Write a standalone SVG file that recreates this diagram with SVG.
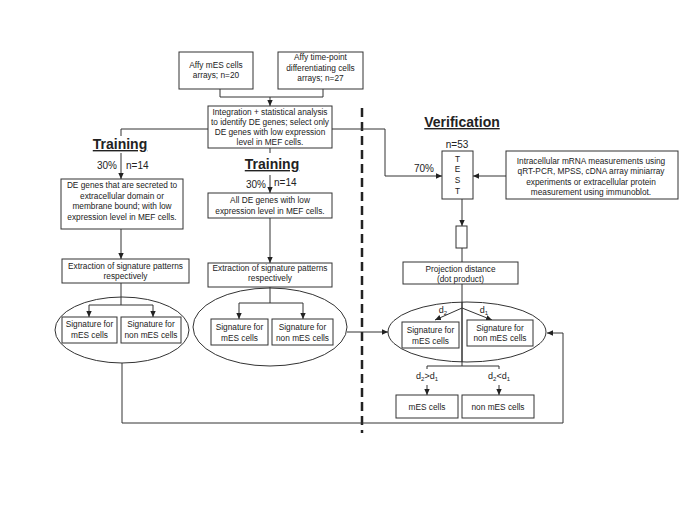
<svg xmlns="http://www.w3.org/2000/svg" width="685" height="513" viewBox="0 0 685 513">
<style>
text{font-family:"Liberation Sans",Arial,sans-serif;fill:#222}
.t{font-size:8.3px;text-anchor:middle}
.m{font-size:10px}
.h{font-size:14px;font-weight:bold;text-anchor:middle;text-decoration:underline}
.d{font-size:9px;text-anchor:middle}
.box{fill:#fff;stroke:#333;stroke-width:1}
.ell{fill:none;stroke:#333;stroke-width:1}
.c{fill:none;stroke:#333;stroke-width:1}
</style>
<defs>
<marker id="ah" viewBox="0 0 10 10" refX="10" refY="5" markerWidth="6" markerHeight="6" markerUnits="userSpaceOnUse" orient="auto"><path d="M0,0.5 L10,5 L0,9.5 z" fill="#222"/></marker>
</defs>
<rect width="685" height="513" fill="#fff"/>
<line x1="362" y1="108" x2="362" y2="433" stroke="#222" stroke-width="2.5" stroke-dasharray="9,5"/>
<g id="connectors">
<path class="c" d="M220,89 V97 H323 V89"/>
<path class="c" d="M270,97 V106" marker-end="url(#ah)"/>
<path class="c" d="M208,129 H121 V136"/>
<path class="c" d="M121,153 V179" marker-end="url(#ah)"/>
<path class="c" d="M270,148 V153"/>
<path class="c" d="M270,175 V193" marker-end="url(#ah)"/>
<path class="c" d="M121,229 V259" marker-end="url(#ah)"/>
<path class="c" d="M121,283 V305 M89,305 H153"/>
<path class="c" d="M89,305 V317" marker-end="url(#ah)"/>
<path class="c" d="M153,305 V317" marker-end="url(#ah)"/>
<path class="c" d="M122,363 V423 H563 V333 H547" marker-end="url(#ah)"/>
<path class="c" d="M270,218 V263" marker-end="url(#ah)"/>
<path class="c" d="M270,287 V303 M239,303 H303"/>
<path class="c" d="M239,303 V319" marker-end="url(#ah)"/>
<path class="c" d="M303,303 V319" marker-end="url(#ah)"/>
<path class="c" d="M347,332 H388" marker-end="url(#ah)"/>
<path class="c" d="M332,129 H385 V176 H442" marker-end="url(#ah)"/>
<path class="c" d="M506,176 H473" marker-end="url(#ah)"/>
<path class="c" d="M462,199 V226" marker-end="url(#ah)"/>
<path class="c" d="M462,248 V262"/>
<path class="c" d="M462,284 V366"/>
<path class="c" d="M462,308 L435,320" marker-end="url(#ah)"/>
<path class="c" d="M462,308 L492,320" marker-end="url(#ah)"/>
<path class="c" d="M427,369 V366 H499 V369"/>
<path class="c" d="M427,385 V395" marker-end="url(#ah)"/>
<path class="c" d="M499,385 V395" marker-end="url(#ah)"/>
</g>
<g id="affy-mes">
<rect class="box" x="179" y="52" width="74" height="37"/>
<text class="t" x="216" y="68">Affy mES cells</text>
<text class="t" x="216" y="78">arrays; n=20</text>
</g>
<g id="affy-timepoint">
<rect class="box" x="278" y="52" width="85" height="37"/>
<text class="t" x="320.5" y="60">Affy time-point</text>
<text class="t" x="320.5" y="70.5">differentiating cells</text>
<text class="t" x="320.5" y="81">arrays; n=27</text>
</g>
<g id="integration">
<rect class="box" x="208" y="106" width="124" height="42"/>
<text class="t" x="270" y="115">Integration + statistical analysis</text>
<text class="t" x="270" y="125">to identify DE genes; select only</text>
<text class="t" x="270" y="135">DE genes with low expression</text>
<text class="t" x="270" y="144.5">level in MEF cells.</text>
</g>
<g id="training-left-label">
<text class="h" x="120" y="149">Training</text>
<text class="m" x="117" y="169" text-anchor="end">30%</text>
<text class="m" x="126" y="169">n=14</text>
</g>
<g id="left-de">
<rect class="box" x="61" y="179" width="122" height="50"/>
<text class="t" x="122" y="188">DE genes that are secreted to</text>
<text class="t" x="122" y="198.7">extracellular domain or</text>
<text class="t" x="122" y="209">membrane bound; with low</text>
<text class="t" x="122" y="220">expression level in MEF cells.</text>
</g>
<g id="left-extraction">
<rect class="box" x="62" y="259" width="127" height="24"/>
<text class="t" x="125.5" y="268.5">Extraction of signature patterns</text>
<text class="t" x="125.5" y="278.5">respectively</text>
</g>
<g id="left-signatures">
<ellipse class="ell" cx="122" cy="330" rx="67" ry="33"/>
<rect class="box" x="62" y="317" width="55" height="26"/>
<text class="t" x="89.5" y="327">Signature for</text>
<text class="t" x="89.5" y="338">mES cells</text>
<rect class="box" x="121" y="317" width="60" height="26"/>
<text class="t" x="151" y="327">Signature for</text>
<text class="t" x="151" y="338">non mES cells</text>
</g>
<g id="training-mid-label">
<text class="h" x="272" y="169">Training</text>
<text class="m" x="266" y="188" text-anchor="end">30%</text>
<text class="m" x="274" y="186">n=14</text>
</g>
<g id="mid-de">
<rect class="box" x="208" y="193" width="124" height="25"/>
<text class="t" x="270" y="203">All DE genes with low</text>
<text class="t" x="270" y="214">expression level in MEF cells.</text>
</g>
<g id="mid-extraction">
<rect class="box" x="208" y="263" width="124" height="24"/>
<text class="t" x="270" y="271.3">Extraction of signature patterns</text>
<text class="t" x="270" y="281.3">respectively</text>
</g>
<g id="mid-signatures">
<ellipse class="ell" cx="270" cy="327" rx="77" ry="39"/>
<rect class="box" x="211" y="319" width="57" height="26"/>
<text class="t" x="239.5" y="330">Signature for</text>
<text class="t" x="239.5" y="341">mES cells</text>
<rect class="box" x="272" y="319" width="61" height="26"/>
<text class="t" x="302.5" y="330">Signature for</text>
<text class="t" x="302.5" y="341">non mES cells</text>
</g>
<g id="verification-label">
<text class="h" x="462" y="127">Verification</text>
<text class="m" x="457" y="148" text-anchor="middle">n=53</text>
<text class="m" x="434" y="172" text-anchor="end">70%</text>
</g>
<g id="test">
<rect class="box" x="442" y="151" width="31" height="48"/>
<text class="t" x="457.5" y="161.5">T</text>
<text class="t" x="457.5" y="172.3">E</text>
<text class="t" x="457.5" y="183">S</text>
<text class="t" x="457.5" y="194">T</text>
</g>
<g id="measurements">
<rect class="box" x="506" y="151" width="172" height="48"/>
<text class="t" x="591" y="163.5">Intracellular mRNA measurements using</text>
<text class="t" x="591" y="173.5">qRT-PCR, MPSS, cDNA array miniarray</text>
<text class="t" x="591" y="184.5">experiments or extracellular protein</text>
<text class="t" x="591" y="194.5">measurement using immunoblot.</text>
</g>
<g id="small-rect">
<rect class="box" x="456" y="226" width="11" height="22"/>
</g>
<g id="projection">
<rect class="box" x="403" y="262" width="115" height="22"/>
<text class="t" x="460.5" y="272">Projection distance</text>
<text class="t" x="460.5" y="282">(dot product)</text>
</g>
<g id="right-signatures">
<ellipse class="ell" cx="467" cy="332" rx="79" ry="30"/>
<path class="c" d="M462,302 V362"/>
<rect class="box" x="402" y="322" width="57" height="26"/>
<text class="t" x="430.5" y="333">Signature for</text>
<text class="t" x="430.5" y="343.5">mES cells</text>
<rect class="box" x="467" y="320" width="66" height="26"/>
<text class="t" x="500" y="330.7">Signature for</text>
<text class="t" x="500" y="341.3">non mES cells</text>
<text class="d" x="443" y="313">d<tspan font-size="6" dy="2">2</tspan></text>
<text class="d" x="484" y="313">d<tspan font-size="6" dy="2">1</tspan></text>
</g>
<g id="decision-labels">
<text class="d" x="427" y="379">d<tspan font-size="6" dy="2">2</tspan><tspan dy="-2">&gt;d</tspan><tspan font-size="6" dy="2">1</tspan></text>
<text class="d" x="499" y="379">d<tspan font-size="6" dy="2">2</tspan><tspan dy="-2">&lt;d</tspan><tspan font-size="6" dy="2">1</tspan></text>
</g>
<g id="mes-cells">
<rect class="box" x="396" y="395" width="62" height="23"/>
<text class="t" x="427" y="410">mES cells</text>
</g>
<g id="non-mes-cells">
<rect class="box" x="462" y="395" width="72" height="23"/>
<text class="t" x="498" y="410">non mES cells</text>
</g>
</svg>
